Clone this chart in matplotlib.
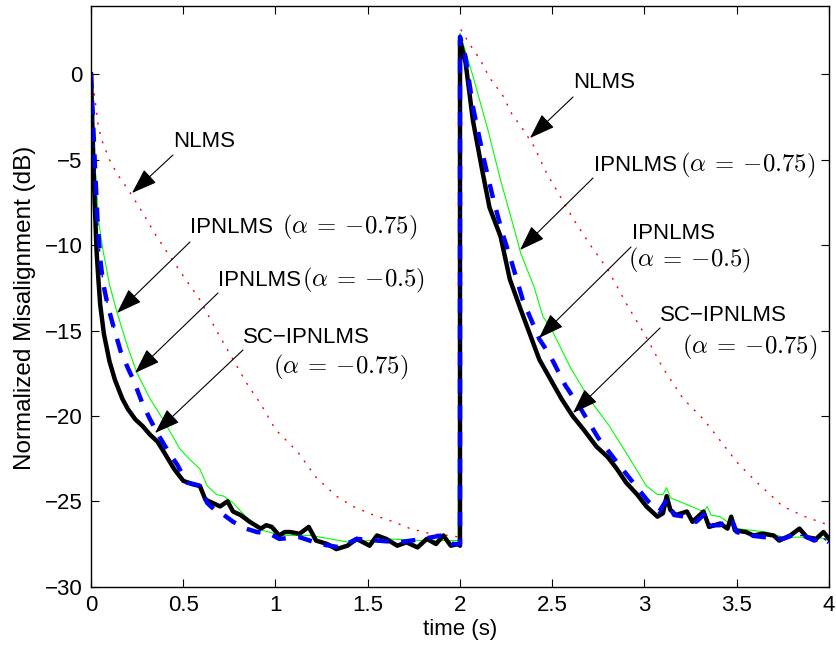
import matplotlib
matplotlib.use("Agg")
import matplotlib.pyplot as plt

plt.rcParams['font.family'] = ['Liberation Sans', 'DejaVu Sans']
plt.rcParams['mathtext.fontset'] = 'cm'

# ---------------- data ----------------
# NLMS (red dotted)
nlms_t = [0, 0.02, 0.04, 0.06, 0.10, 0.14, 0.21, 0.28, 0.35, 0.43, 0.50, 0.59, 0.68,
          0.77, 0.85, 0.92, 1.00, 1.12, 1.22, 1.33, 1.42, 1.53, 1.64, 1.73, 1.84, 1.94, 2.0,
          2.0, 2.05, 2.11, 2.16, 2.23, 2.28, 2.34, 2.40, 2.47, 2.53, 2.61, 2.70, 2.80,
          2.90, 3.01, 3.10, 3.21, 3.32, 3.40, 3.50, 3.60, 3.75, 3.87, 4.0]
nlms_y = [0, -1.3, -3.1, -3.9, -5.0, -5.8, -6.9, -8.1, -9.4, -10.7, -11.8, -13.2, -15.0,
          -16.7, -18.2, -19.3, -20.8, -22.1, -23.6, -24.7, -25.3, -25.8, -26.2, -26.6, -26.9, -27.0, -27.1,
          2.7, 1.8, 0.85, -0.2, -1.2, -2.3, -3.2, -4.2, -5.8, -6.9, -8.4, -9.9, -11.4,
          -13.4, -15.4, -17.2, -19.0, -20.2, -21.3, -22.7, -23.8, -25.3, -25.9, -26.4]

# IPNLMS (alpha = -0.75) (green thin)
ip75_t = [0, 0.01, 0.02, 0.04, 0.065, 0.10, 0.14, 0.20, 0.25, 0.32, 0.39, 0.48, 0.53, 0.59,
          0.63, 0.68, 0.72, 0.77, 0.84, 0.93, 1.00, 1.04, 1.19, 1.40, 1.60, 1.80, 1.99,
          2.0, 2.07, 2.15, 2.22, 2.29, 2.33, 2.40, 2.45, 2.49, 2.60, 2.70, 2.81, 2.92,
          3.01, 3.07, 3.10, 3.12, 3.14, 3.21, 3.32, 3.34, 3.36, 3.41, 3.50, 3.58, 3.66,
          3.75, 3.90, 4.0]
ip75_y = [0, -2.5, -5.0, -8.5, -10.3, -12.3, -13.9, -16.0, -17.5, -19.0, -20.2, -21.9, -22.5, -23.1,
          -24.1, -24.6, -24.7, -25.1, -25.9, -26.7, -26.9, -27.0, -27.0, -27.4, -27.2, -27.3, -27.3,
          2.4, -0.1, -3.2, -6.2, -8.9, -10.5, -12.4, -14.2, -14.8, -17.2, -19.0, -20.6, -22.5,
          -24.1, -24.6, -24.6, -24.2, -24.8, -25.1, -25.6, -25.3, -25.8, -25.9, -26.6, -26.7, -26.8,
          -27.1, -27.1, -27.2]

# IPNLMS (alpha = -0.5) (blue dash-dot, thick)
ip50_t = [0, 0.01, 0.02, 0.035, 0.05, 0.065, 0.09, 0.12, 0.16, 0.20, 0.23, 0.28, 0.32, 0.37,
          0.42, 0.47, 0.52, 0.56, 0.59, 0.63, 0.68, 0.72, 0.77, 0.84, 0.90, 0.97, 1.02, 1.13,
          1.24, 1.35, 1.44, 1.55, 1.67, 1.80, 1.90, 1.96, 2.0,
          2.0, 2.03, 2.07, 2.13, 2.18, 2.23, 2.28, 2.34, 2.43, 2.49, 2.57, 2.65, 2.75, 2.85,
          2.96, 3.02, 3.08, 3.12, 3.16, 3.22, 3.28, 3.33, 3.36, 3.41, 3.47, 3.50, 3.57, 3.65,
          3.75, 3.80, 3.86, 3.92, 3.96, 4.0]
ip50_y = [0, -2.5, -5.0, -8.5, -10.8, -12.2, -13.5, -14.7, -16.2, -17.2, -17.9, -19.3, -20.2, -21.2,
          -22.1, -22.9, -23.9, -24.0, -24.1, -25.1, -25.6, -25.8, -26.2, -26.6, -26.8, -26.9, -27.2, -27.1,
          -27.5, -27.7, -27.2, -27.3, -27.4, -27.2, -27.0, -27.5, -27.5,
          2.2, 1.0, -1.9, -5.0, -7.3, -9.3, -11.0, -13.2, -15.5, -16.5, -18.2, -19.5, -21.3, -22.7,
          -24.2, -25.0, -25.6, -24.9, -25.8, -25.9, -26.2, -25.7, -26.4, -26.4, -26.0, -26.8, -27.0, -27.1,
          -27.2, -27.0, -27.0, -27.3, -27.1, -27.4]

# SC-IPNLMS (alpha = -0.75) (black thick)
sc_t = [0, 0.01, 0.02, 0.03, 0.04, 0.05, 0.07, 0.10, 0.13, 0.17, 0.20, 0.24, 0.28, 0.32,
        0.36, 0.40, 0.45, 0.50, 0.55, 0.59, 0.62, 0.66, 0.70, 0.74, 0.77, 0.81, 0.86, 0.92,
        0.95, 0.98, 1.02, 1.05, 1.08, 1.13, 1.18, 1.22, 1.28, 1.33, 1.39, 1.44, 1.51, 1.55,
        1.60, 1.66, 1.71, 1.77, 1.82, 1.87, 1.91, 1.95, 1.99, 2.0,
        2.0, 2.03, 2.07, 2.12, 2.16, 2.22, 2.27, 2.33, 2.43, 2.55, 2.61, 2.67, 2.74, 2.80,
        2.85, 2.90, 2.96, 3.01, 3.07, 3.10, 3.12, 3.14, 3.17, 3.23, 3.26, 3.32, 3.35, 3.41,
        3.45, 3.47, 3.49, 3.55, 3.59, 3.64, 3.70, 3.73, 3.79, 3.84, 3.88, 3.93, 3.97, 4.0]
sc_y = [0, -4.0, -7.5, -10.3, -12.0, -13.5, -15.2, -16.8, -17.9, -19.0, -19.6, -20.2, -20.6, -21.1,
        -21.5, -22.2, -23.1, -23.8, -24.0, -24.1, -24.9, -25.1, -25.3, -25.0, -25.6, -25.8, -26.2, -26.6,
        -26.4, -26.5, -27.0, -26.8, -26.8, -26.9, -26.5, -27.3, -27.5, -27.8, -27.6, -27.2, -27.6, -27.0,
        -27.2, -27.6, -27.4, -27.7, -27.2, -27.5, -27.0, -27.6, -27.5, -27.6,
        2.0, 0.7, -2.7, -5.6, -7.8, -9.5, -12.0, -13.8, -16.7, -19.0, -20.0, -20.8, -21.8, -22.4,
        -23.1, -23.9, -24.6, -25.3, -25.9, -25.7, -24.7, -25.5, -25.8, -25.6, -26.2, -25.6, -26.5, -26.3,
        -26.6, -25.9, -26.7, -26.8, -27.0, -26.9, -27.0, -27.3, -27.0, -26.6, -27.1, -27.2, -26.8, -27.2]

xticks = [0, 0.5, 1, 1.5, 2, 2.5, 3, 3.5, 4]
xtick_labels = ['0', '0.5', '1', '1.5', '2', '2.5', '3', '3.5', '4']
yticks = [-30, -25, -20, -15, -10, -5, 0]
ytick_labels = ['\u221230', '\u221225', '\u221220', '\u221215', '\u221210', '\u22125', '0']

# ---------------- figure ----------------
W, H = 837, 648
fig = plt.figure(figsize=(W / 100, H / 100), dpi=100)
AX_L, AX_R, AX_T, AX_B = 91, 829, 6, 586.7
ax = fig.add_axes([AX_L / W, 1 - AX_B / H, (AX_R - AX_L) / W, (AX_B - AX_T) / H])

ax.plot(nlms_t, nlms_y, color=(1, 0, 0), lw=1.0, linestyle=(0, (1.5, 5.5)))
ax.plot(ip75_t, ip75_y, color=(0, 1, 0), lw=0.8)
ax.plot(sc_t, sc_y, color='black', lw=3.2, solid_joinstyle='round')
# thick dash + thin dot (MATLAB style dash-dot at large line width)
ax.plot(ip50_t, ip50_y, color=(0, 0, 1), lw=1.0, linestyle=(5.4, (2.16, 16.56)))
ax.plot(ip50_t, ip50_y, color=(0, 0, 1), lw=3.2, linestyle=(0, (3.2, 2.8)))

ax.set_xlim(0, 4)
ax.set_ylim(-30, 4)
ax.set_xticks(xticks)
ax.set_xticklabels(xtick_labels)
ax.set_yticks(yticks)
ax.set_yticklabels(ytick_labels)
ax.tick_params(direction='in', length=6, width=0.8, top=True, right=True,
               labelsize=16, pad=6)
for s in ax.spines.values():
    s.set_linewidth(1.0)

ax.set_xlabel('time (s)', fontsize=16, labelpad=2)
ax.set_ylabel('Normalized Misalignment (dB)', fontsize=17.5)
ax.yaxis.set_label_coords((36 - AX_L) / (AX_R - AX_L), (AX_B - 308) / (AX_B - AX_T))

# ---------------- annotations ----------------
def px(x, y):
    """reference pixel position -> data coordinates"""
    return ((x - AX_L) / (AX_R - AX_L) * 4.0,
            4.0 - (y - AX_T) / (AX_B - AX_T) * 34.0)


def label(x, y, s, size=16):
    ax.text(*px(x, y), s, fontsize=size, ha='left', va='center')


def arrow(tip, start):
    ax.annotate('', xy=px(*tip), xytext=px(*start),
                arrowprops=dict(arrowstyle='-|>,head_length=0.8,head_width=0.28',
                                color='black', lw=0.8, mutation_scale=20,
                                shrinkA=0, shrinkB=0))

MS = 17.8
A75 = r'$(\alpha\:=\:-0.75)$'
A50 = r'$(\alpha\:=\:-0.5)$'
# left side
label(173, 141, 'NLMS')
arrow((132, 193), (173, 155))

label(190, 227, 'IPNLMS')
label(282, 227, A75, MS)
arrow((117, 313), (190, 242))

label(218, 280, 'IPNLMS')
label(302, 280, A50, MS)
arrow((135, 373), (218, 293))

label(243, 337, 'SC\u2212IPNLMS')
label(273, 367, A75, MS)
arrow((155, 433), (243, 350))

# right side
label(573, 83, 'NLMS')
arrow((530, 138), (573, 97))

label(594, 165, 'IPNLMS')
label(680, 165, A75, MS)
arrow((520, 250), (593, 178))

label(632, 233, 'IPNLMS')
label(628, 260, A50, MS)
arrow((539, 338), (631, 247))

label(660, 315, 'SC\u2212IPNLMS')
label(682, 347, A75, MS)
arrow((573, 413), (660, 328))

fig.savefig('out.png', dpi=100)
